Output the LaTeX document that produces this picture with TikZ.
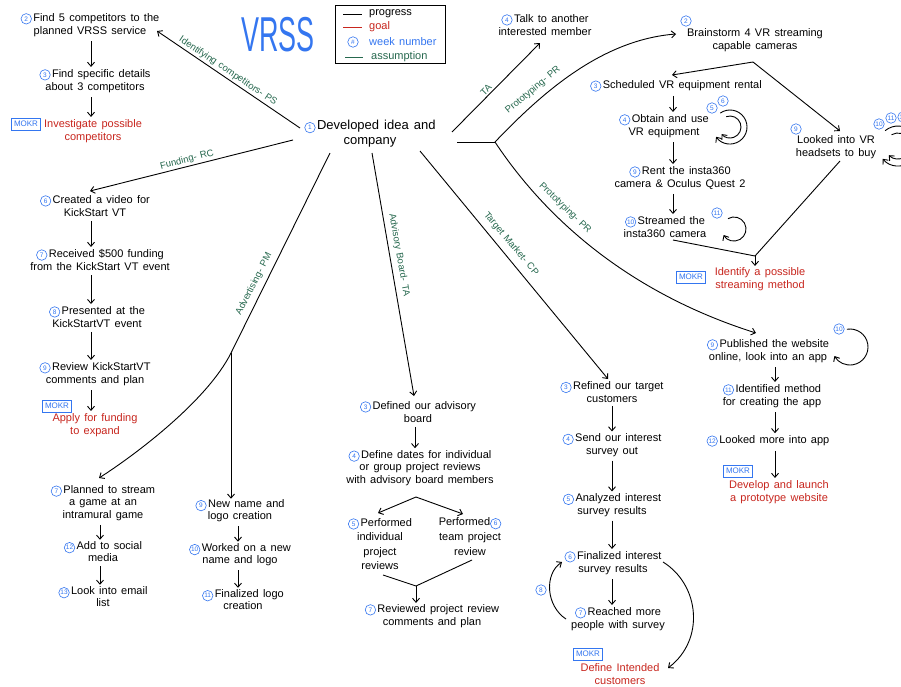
\documentclass[tikz,border=0pt]{standalone}
\usepackage{fontspec}
\setmainfont{Liberation Sans}[WordSpace=1.4]
\usetikzlibrary{arrows.meta}
\definecolor{wkblue}{RGB}{52,118,240}
\definecolor{goalred}{RGB}{200,38,30}
\definecolor{asgreen}{RGB}{38,104,78}
\tikzset{
 wkc/.style={circle,draw=wkblue,text=wkblue,line width=0.6pt,inner sep=0pt,minimum size=10.5pt,font=\fontsize{6.5}{7}\selectfont},
 tx/.style={align=center,inner sep=1pt,font=\fontsize{11}{13.5}\selectfont},
 goaltx/.style={tx,text=goalred},
 mokr/.style={draw=wkblue,text=wkblue,line width=0.8pt,inner sep=1pt,minimum width=29pt,minimum height=12pt,font=\fontsize{8}{8}\selectfont},
 lab/.style={text=asgreen,inner sep=1pt,font=\fontsize{9.5}{10}\selectfont},
 con/.style={line width=0.9pt},
 arr/.style={con,-{Straight Barb[length=4pt,width=7pt]}},
 varr/.style={arr,shorten <=3pt,shorten >=1pt},
 legt/.style={anchor=west,inner sep=1pt,font=\fontsize{11}{12}\selectfont},
}
\newcommand{\wk}[1]{\tikz[baseline=(wkn.base)]\node[wkc](wkn){#1};\hspace{1.5pt}}
\begin{document}
\begin{tikzpicture}[x=1pt,y=-1pt]
\fill[white] (0,0) rectangle (901,686);
\path[use as bounding box] (0,0) rectangle (901,686);
\clip (0,0) rectangle (901,686);

% title
\node[text=wkblue,inner sep=0pt,font=\fontsize{49}{49}\selectfont] (title) at (278,35) {\scalebox{0.55}[1]{VRSS}};

% legend
\node[draw,line width=1pt,minimum width=110pt,minimum height=58pt,inner sep=0pt] (legend) at (390,34) {};
\coordinate (lga1) at (343,14); \coordinate (lgb1) at (362,14);
\draw[con] (lga1) -- (lgb1);
\node[legt] (lg1) at (368,14) {progress};
\coordinate (lga2) at (343,27); \coordinate (lgb2) at (362,27);
\draw[con,goalred] (lga2) -- (lgb2);
\node[legt,text=goalred] (lg2) at (368,27) {goal};
\node[wkc] (lg3c) at (353,42) {\#};
\node[legt,text=wkblue] (lg3) at (368,42) {week number};
\coordinate (lga4) at (345,57); \coordinate (lgb4) at (363,57);
\draw[con,asgreen] (lga4) -- (lgb4);
\node[legt,text=asgreen] (lg4) at (370,57) {assumption};

% central
\node[tx,font=\fontsize{13}{15}\selectfont] (n1) at (370,134) {\wk{1}Developed idea and\\company};

% competitors
\node[tx] (c2) at (90,25) {\wk{2}Find 5 competitors to the\\planned VRSS service};
\node[tx] (c3) at (95,81) {\wk{3}Find specific details\\about 3 competitors};
\node[goaltx] (cg) at (93,131) {Investigate possible\\competitors};
\node[mokr] (cm) at (26,124) {MOKR};

% funding
\node[tx] (f6) at (95,206) {\wk{6}Created a video for\\KickStart VT};
\node[tx] (f7) at (100,260) {\wk{7}Received \$500 funding\\from the KickStart VT event};
\node[tx] (f8) at (97,317) {\wk{8}Presented at the\\KickStartVT event};
\node[tx] (f9) at (95,374) {\wk{9}Review KickStartVT\\comments and plan};
\node[goaltx] (fg) at (95,425) {Apply for funding\\to expand};
\node[mokr] (fm) at (57,406) {MOKR};

% advertising
\node[tx,font=\fontsize{11}{12.5}\selectfont] (a7) at (103,503) {\wk{7}Planned to stream\\a game at an\\intramural game};
\node[tx,font=\fontsize{11}{12}\selectfont] (a12) at (103,552) {\wk{12}Add to social\\media};
\node[tx,font=\fontsize{11}{12}\selectfont] (a13) at (103,597) {\wk{13}Look into email\\list};
\node[tx,font=\fontsize{11}{12}\selectfont] (a9) at (240,511) {\wk{9}New name and\\logo creation};
\node[tx,font=\fontsize{11}{12}\selectfont] (a10) at (240,555) {\wk{10}Worked on a new\\name and logo};
\node[tx,font=\fontsize{11}{12}\selectfont] (a11) at (243,600) {\wk{11}Finalized logo\\creation};

% advisory board
\node[tx] (b8) at (418,412) {\wk{3}Defined our advisory\\board};
\node[tx,font=\fontsize{11}{12.5}\selectfont] (b9) at (420,468) {\wk{4}Define dates for individual\\or group project reviews\\with advisory board members};
\node[tx,font=\fontsize{11}{14.5}\selectfont] (b5) at (380,544) {\wk{5}Performed\\individual\\project\\reviews};
\node[tx,font=\fontsize{11}{15}\selectfont] (b6) at (470,537) {Performed\wk{6}\\team project\\review};
\node[tx] (b7) at (432,616) {\wk{7}Reviewed project review\\comments and plan};

% target market
\node[tx,font=\fontsize{11}{12.5}\selectfont] (t3) at (612,392) {\wk{3}Refined our target\\customers};
\node[tx,font=\fontsize{11}{12.5}\selectfont] (t4) at (612,445) {\wk{4}Send our interest\\survey out};
\node[tx,font=\fontsize{11}{12.5}\selectfont] (t5) at (612,505) {\wk{5}Analyzed interest\\survey results};
\node[tx] (t6) at (613,563) {\wk{6}Finalized interest\\survey results};
\node[tx] (t7) at (618,619) {\wk{7}Reached more\\people with survey};
\node[goaltx] (tg) at (620,674) {Define Intended\\customers};
\node[mokr] (tm) at (588,654) {MOKR};
\node[wkc] (t8) at (541,590) {8};

% TA
\node[tx] (r4) at (545,25) {\wk{4}Talk to another\\interested member};

% prototyping (upper)
\node[wkc] (p2c) at (686,21) {2};
\node[tx] (p2) at (755,40) {Brainstorm 4 VR streaming\\capable cameras};
\node[tx] (p3) at (676,86) {\wk{3}Scheduled VR equipment rental};
\node[tx] (p4) at (664,126) {\wk{4}Obtain and use\\VR equipment};
\node[wkc] (p5c) at (712,108) {5};
\node[wkc] (p6c) at (723,101) {6};
\node[tx] (p9) at (680,178) {\wk{9}Rent the insta360\\camera \& Oculus Quest 2};
\node[tx] (p10) at (665,227) {\wk{10}Streamed the\\insta360 camera};
\node[wkc] (p11c) at (717,213) {11};
\node[goaltx] (pg) at (760,279) {Identify a possible\\streaming method};
\node[mokr] (pm) at (691,277) {MOKR};
\node[wkc] (p8c) at (796,129) {9};
\node[tx] (p8) at (836,147) {Looked into VR\\headsets to buy};
\node[wkc] (h10) at (879,124) {10};
\node[wkc] (h11) at (891,118) {11};
\node[wkc] (h12) at (903,117) {12};

% prototyping (lower)
\node[tx] (w9) at (768,351) {\wk{9}Published the website\\online, look into an app};
\node[wkc] (w10) at (839,329) {10};
\node[tx] (w11) at (772,396) {\wk{11}Identified method\\for creating the app};
\node[tx] (w12) at (768,441) {\wk{12}Looked more into app};
\node[goaltx] (wg) at (779,492) {Develop and launch\\a prototype website};
\node[mokr] (wm) at (738,471) {MOKR};

% ---------- connectors from central node
\coordinate (sps) at (300,128); \coordinate (eps) at (157,31);
\draw[arr] (sps) -- (eps);
\node[lab,rotate=-34] (lps) at (228,71) {Identifying competitors- PS};

\coordinate (src) at (293,140); \coordinate (erc) at (90,191);
\draw[arr] (src) -- (erc);
\node[lab,rotate=14.5] (lrc) at (187,160) {Funding- RC};

\coordinate (spm) at (330,153); \coordinate (jpm) at (231,353); \coordinate (epm) at (99,478);
\draw[arr] (spm) -- (jpm) .. controls (207,401) and (135,455) .. (epm);
\node[lab,rotate=63] (lpm) at (254,284) {Advertising- PM};
\draw[arr] (jpm) -- (jpm |- a9.north);

\coordinate (sta) at (372,153); \coordinate (eta) at (414,396);
\draw[arr] (sta) -- (eta);
\node[lab,rotate=-80] (lta) at (399,255) {Advisory Board- TA};

\coordinate (scp) at (420,151); \coordinate (ecp) at (608,379);
\draw[arr] (scp) -- (ecp);
\node[lab,rotate=-50] (lcp) at (511,244) {Target Market- CP};

\coordinate (str) at (452,132); \coordinate (etr) at (540,43);
\draw[arr] (str) -- (etr);
\node[lab,rotate=45] (ltr) at (486,90) {TA};

\coordinate (spr) at (457,142); \coordinate (jpr) at (495,142);
\coordinate (epr1) at (676,34); \coordinate (epr2) at (756,333);
\draw[con] (spr) -- (jpr);
\draw[arr] (jpr) .. controls (540,95) and (600,40) .. (epr1);
\draw[arr] (jpr) .. controls (540,210) and (620,290) .. (epr2);
\node[lab,rotate=40] (lpr1) at (533,90) {Prototyping- PR};
\node[lab,rotate=-44] (lpr2) at (565,208) {Prototyping- PR};

% ---------- competitors chain
\coordinate (xc) at (91,0);
\draw[varr] (xc |- c2.south) -- (xc |- c3.north);
\draw[varr] (xc |- c3.south) -- (xc |- cg.north);

% ---------- funding chain
\coordinate (xf) at (91,0);
\draw[varr] (xf |- f6.south) -- (xf |- f7.north);
\draw[varr] (xf |- f7.south) -- (xf |- f8.north);
\draw[varr] (xf |- f8.south) -- (xf |- f9.north);
\draw[varr] (xf |- f9.south) -- (xf |- fg.north);

% ---------- advertising chains
\coordinate (xa) at (100,0);
\draw[varr] (xa |- a7.south) -- (xa |- a12.north);
\draw[varr] (xa |- a12.south) -- (xa |- a13.north);
\coordinate (xb) at (238,0);
\draw[varr] (xb |- a9.south) -- (xb |- a10.north);
\draw[varr] (xb |- a10.south) -- (xb |- a11.north);

% ---------- advisory chain
\coordinate (xd) at (415,0);
\draw[varr] (xd |- b8.south) -- (xd |- b9.north);
\coordinate (jad1) at (416,497); \coordinate (ead1) at (378,513); \coordinate (ead2) at (463,514);
\draw[arr] (jad1) -- (ead1);
\draw[arr] (jad1) -- (ead2);
\coordinate (sad1) at (383,575); \coordinate (sad2) at (472,560); \coordinate (jad2) at (416,586);
\draw[con] (sad1) -- (jad2) -- (sad2);
\draw[arr] (jad2) -- (jad2 |- b7.north);

% ---------- target chain
\coordinate (xt) at (612,0);
\draw[varr] (xt |- t3.south) -- (xt |- t4.north);
\draw[varr] (xt |- t4.south) -- (xt |- t5.north);
\draw[varr] (xt |- t5.south) -- (xt |- t6.north);
\draw[varr] (xt |- t6.south) -- (xt |- t7.north);
\coordinate (t7w) at (566,619); \coordinate (t6w) at (562,562);
\draw[arr] (t7w) .. controls (546,606) and (544,574) .. (t6w);
\coordinate (t6e) at (663,562); \coordinate (tge) at (668,668);
\draw[arr] (t6e) .. controls (700,585) and (705,640) .. (tge);

% ---------- prototyping upper
\coordinate (jb) at (753,62); \coordinate (eb1) at (672,75); \coordinate (eb2) at (840,131);
\draw[arr] (jb) -- (eb1);
\draw[arr] (jb) -- (eb2);
\coordinate (xp) at (673,0);
\draw[varr] (xp |- p3.south) -- (xp |- p4.north);
\draw[varr] (xp |- p4.south) -- (xp |- p9.north);
\draw[varr] (xp |- p9.south) -- (xp |- p10.north);
\coordinate (sp10) at (673,240); \coordinate (sp8) at (840,161); \coordinate (js) at (755,256);
\draw[con] (sp10) -- (js);
\draw[con] (sp8) -- (js);
\draw[arr] (js) -- (js |- pg.north);
% loops
\draw[arr] ([shift={(-125:17)}]730,127) arc[start angle=-125,end angle=145,radius=17];
\draw[arr] ([shift={(-110:11)}]730,127) arc[start angle=-110,end angle=140,radius=11];
\draw[arr] ([shift={(-120:12)}]734,229) arc[start angle=-120,end angle=150,radius=12];
\draw[arr] ([shift={(-130:20)}]898,146) arc[start angle=-130,end angle=140,radius=20];
\draw[arr] ([shift={(-120:13)}]898,146) arc[start angle=-120,end angle=135,radius=13];

% ---------- prototyping lower
\coordinate (xw) at (775,0);
\draw[varr] (xw |- w9.south) -- (xw |- w11.north);
\draw[varr] (xw |- w11.south) -- (xw |- w12.north);
\draw[varr] (xw |- w12.south) -- (xw |- wg.north);
\draw[arr] ([shift={(-100:18)}]850,347) arc[start angle=-100,end angle=150,radius=18];
\end{tikzpicture}
\end{document}
